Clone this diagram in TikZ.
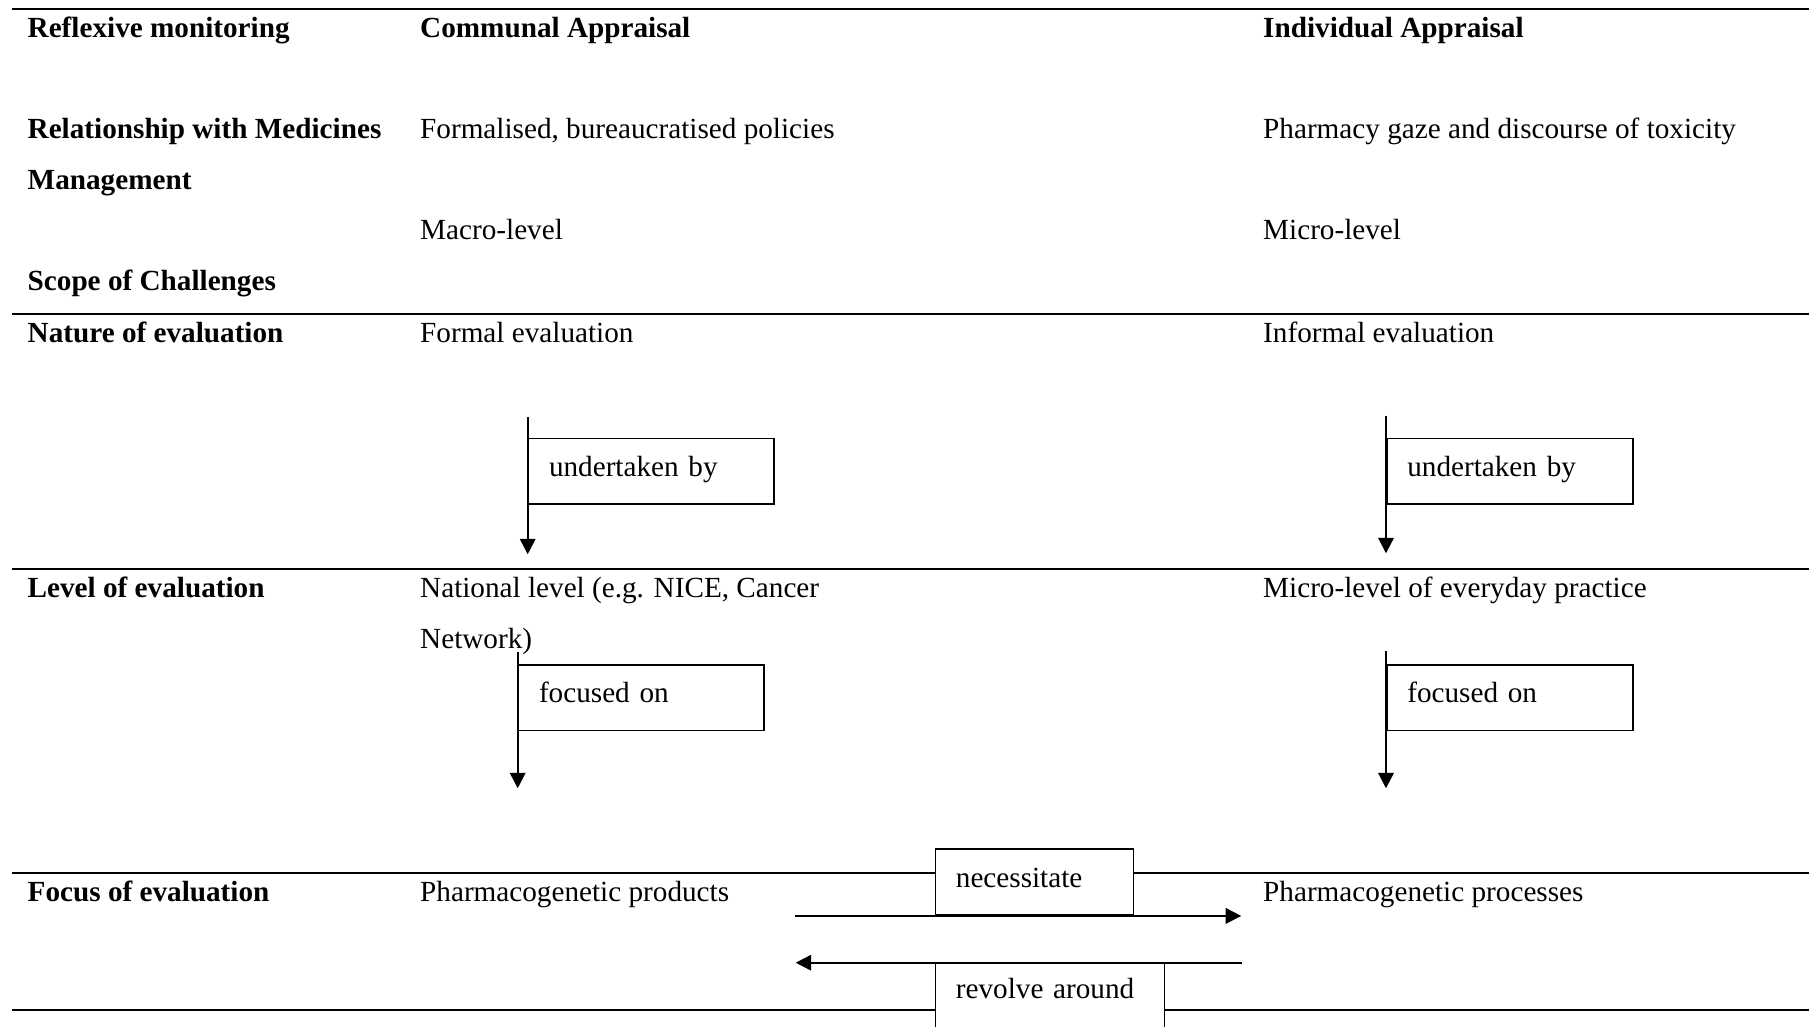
\documentclass[tikz,border=0pt]{standalone}
\usepackage{fontspec}
\setmainfont{Liberation Serif}
\usetikzlibrary{arrows.meta}
\tikzset{
  rule/.style={line width=2.1pt},
  txt/.style={anchor=base west, inner sep=0pt, font=\fontsize{29.2pt}{35pt}\selectfont},
  hd/.style={txt, font=\fontsize{29.2pt}{35pt}\selectfont\bfseries},
  box/.style={draw, line width=1.6pt, fill=white, anchor=north west, inner xsep=20.5pt, inner ysep=0pt,
    align=left, text height=20pt, text depth=10pt, font=\fontsize{29.2pt}{35pt}\selectfont},
  arr/.style={line width=2pt, -{Triangle[width=15.5pt,length=15.5pt]}}
}
\begin{document}
\begin{tikzpicture}[x=1pt,y=-1pt]
\useasboundingbox (0,0) rectangle (1809,1026);
% table rules
\draw[rule] (12.3,9) -- (1809,9);
\draw[rule] (12.3,314) -- (1809,314);
\draw[rule] (12.3,569) -- (1809,569);
\draw[rule] (12.3,873.3) -- (1809,873.3);
\draw[rule] (12.3,1010) -- (1809,1010);
% header row
\node[hd] (h1) at (27.5,37.5) {Reflexive monitoring};
\node[hd] (h2) at (420,37.5) {Communal Appraisal};
\node[hd] (h3) at (1263,37.5) {Individual Appraisal};
% relationship rows
\node[hd] (r1a) at (27.5,138.5) {Relationship with Medicines};
\node[hd] (r1b) at (27.5,189) {Management};
\node[txt] (r2) at (420,138.5) {Formalised, bureaucratised policies};
\node[txt] (r3) at (1263,138.5) {Pharmacy gaze and discourse of toxicity};
\node[txt] (s2) at (420,239.5) {Macro-level};
\node[txt] (s3) at (1263,239.5) {Micro-level};
\node[hd] (s1) at (27.5,290) {Scope of Challenges};
% nature
\node[hd] (n1) at (27.5,342.7) {Nature of evaluation};
\node[txt] (n2) at (420,342.7) {Formal evaluation};
\node[txt] (n3) at (1263,342.7) {Informal evaluation};
% level
\node[hd] (l1) at (27.5,597.7) {Level of evaluation};
\node[txt] (l2a) at (420,597.7) {National level (e.g. NICE, Cancer};
\node[txt] (l2b) at (420,648) {Network)};
\node[txt] (l3) at (1263,597.7) {Micro-level of everyday practice};
% focus
\node[hd] (f1) at (27.5,901.7) {Focus of evaluation};
\node[txt] (f2) at (420,901.7) {Pharmacogenetic products};
\node[txt] (f3) at (1263,901.7) {Pharmacogenetic processes};
% label boxes
\node[box, text width=204.3pt, minimum height=65.3pt] (ub1) at (527.7,437.7) {undertaken by};
\node[box, text width=205pt, minimum height=65.3pt] (ub2) at (1386,437.7) {undertaken by};
\node[box, text width=204.3pt, minimum height=65.7pt] (fo1) at (517.7,664) {focused on};
\node[box, text width=205pt, minimum height=65.7pt] (fo2) at (1386,664) {focused on};
\node[box, text width=157.2pt, minimum height=66pt] (nec) at (934.6,848.3) {necessitate};
\node[box, text width=188.2pt, minimum height=75pt, text depth=24.4pt] (rev) at (934.6,962.7) {revolve around};
% connectors
\draw[arr] ([yshift=21pt]ub1.north west) -- ([yshift=-49.7pt]ub1.south west);
\draw[arr] ([yshift=22pt]ub2.north west) -- ([yshift=-48.7pt]ub2.south west);
\draw[arr] ([yshift=12.3pt]fo1.north west) -- ([yshift=-57pt]fo1.south west);
\draw[arr] ([yshift=13pt]fo2.north west) -- ([yshift=-57pt]fo2.south west);
\draw[arr] ([xshift=-139.6pt]nec.south west) -- ([xshift=106.8pt]nec.south east);
\draw[arr] ([xshift=77pt]rev.north east) -- ([xshift=-138.9pt]rev.north west);
\end{tikzpicture}
\end{document}
